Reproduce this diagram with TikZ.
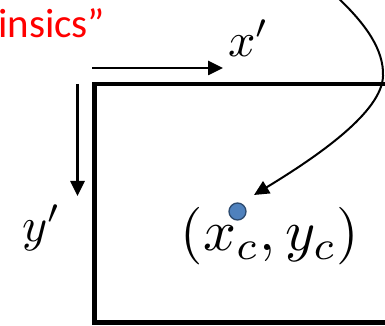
\documentclass[tikz,border=0pt]{standalone}
\usepackage{fontspec}
\newfontfamily\calib{Carlito}
\usetikzlibrary{arrows.meta}
\definecolor{dotblue}{HTML}{4F81BD}
\definecolor{dotedge}{HTML}{2C4A6E}
\tikzset{
  axisarrow/.style={line width=2.6pt,-{Triangle[length=15pt,width=14pt]}},
  curvearrow/.style={line width=2pt,-{Triangle[length=15pt,width=14pt]}},
  lbl/.style={inner sep=0pt,scale=4.8},
  biglbl/.style={inner sep=0pt,scale=5.75},
}
\begin{document}
\begin{tikzpicture}[x=1pt,y=1pt]
\useasboundingbox (0,0) rectangle (385,326);
\clip (0,0) rectangle (385,326);
% red title fragment
\node[inner sep=0pt,anchor=base west,text=red,font=\calib\fontsize{41}{49}\selectfont] (title) at (-2,288) {insics”};
% image frame
\draw[line width=4.6pt] (420,242) -- (94.5,242) -- (94.5,3.5) -- (420,3.5);
% axes
\coordinate (xs) at (92,258);
\coordinate (xe) at (223,258);
\draw[axisarrow] (xs) -- (xe);
\coordinate (ys) at (77.5,242);
\coordinate (ye) at (77.5,130);
\draw[axisarrow] (ys) -- (ye);
\node[lbl] (xl) at (249,288) {$x'$};
\node[lbl] (yl) at (42,98) {$y'$};
% principal point
\node[circle,fill=dotblue,draw=dotedge,line width=1.3pt,minimum size=17pt,inner sep=0pt] (pp) at (237.5,114.5) {};
\node[biglbl,anchor=base] (pl) at (270,75) {$(x_c,y_c)$};
% curved arrow
\coordinate (cs) at (336,330);
\coordinate (ct) at (254,131);
\draw[curvearrow] (cs) .. controls (366,302) and (384,276) .. (383,250)
   .. controls (382,214) and (318,170) .. (ct);
\end{tikzpicture}
\end{document}
